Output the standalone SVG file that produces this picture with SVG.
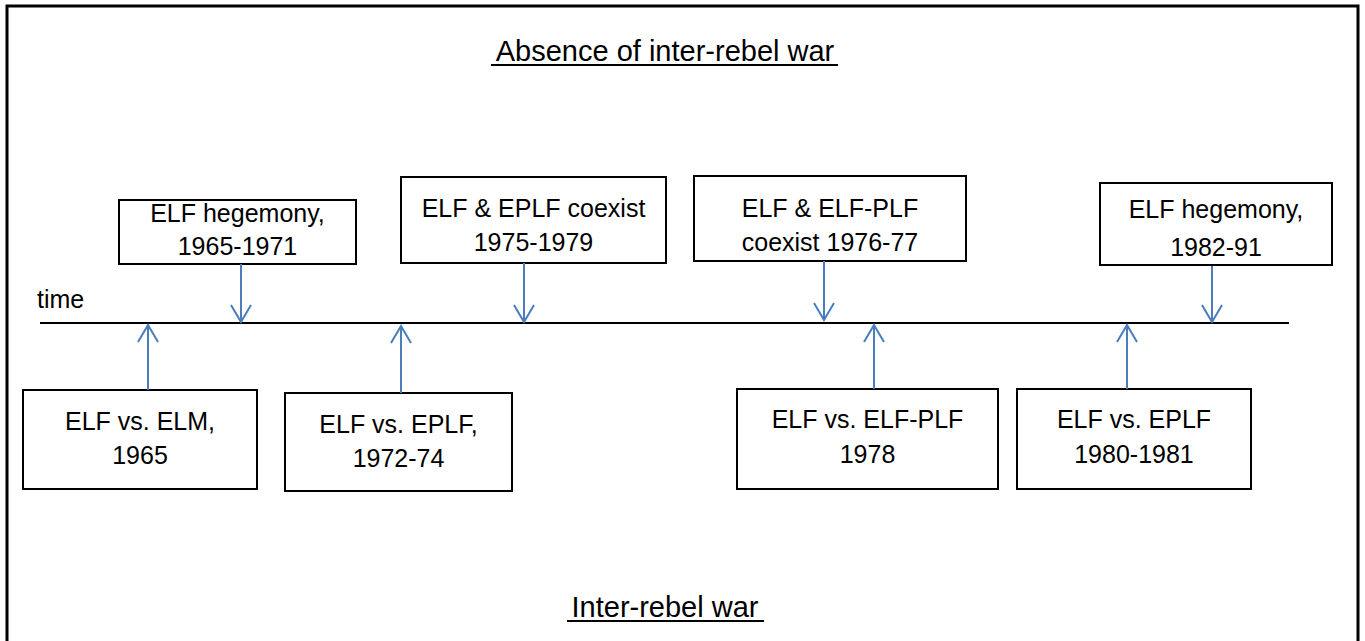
<svg xmlns="http://www.w3.org/2000/svg" width="1365" height="641" viewBox="0 0 1365 641">
<style>
.box{fill:#fff;stroke:#000;stroke-width:2}
.t{font-family:"Liberation Sans",Arial,sans-serif;font-size:25px;fill:#000;text-anchor:middle}
.h{font-family:"Liberation Sans",Arial,sans-serif;font-size:29px;fill:#000;text-anchor:middle}
.c{stroke:#4a7ebb;stroke-width:2;fill:none}
</style>
<defs>
<marker id="ah" markerUnits="userSpaceOnUse" viewBox="-20 -12 22 24" refX="0" refY="0" markerWidth="22" markerHeight="24" orient="auto">
<path d="M-17,-10 L0,0 L-17,10" fill="none" stroke="#4a7ebb" stroke-width="2"/>
</marker>
</defs>
<rect width="1365" height="641" fill="#fff"/>
<path d="M7,641 V6 H1358 V641" fill="none" stroke="#000" stroke-width="3"/>
<g id="title-top">
<text class="h" x="665" y="61">Absence of inter-rebel war</text>
<line x1="491" y1="65" x2="838" y2="65" stroke="#000" stroke-width="2"/>
</g>
<g id="title-bottom">
<text class="h" x="665" y="617">Inter-rebel war</text>
<line x1="567" y1="621" x2="764" y2="621" stroke="#000" stroke-width="2"/>
</g>
<g id="timeline">
<text class="t" x="37" y="308" style="text-anchor:start">time</text>
<line x1="40" y1="323" x2="1289" y2="323" stroke="#000" stroke-width="2"/>
</g>
<g id="n1"><rect class="box" x="119" y="200" width="237" height="64"/><text class="t" x="237.5" y="222">ELF hegemony,</text><text class="t" x="237.5" y="255">1965-1971</text></g>
<g id="n2"><rect class="box" x="401" y="177" width="265" height="86"/><text class="t" x="533.5" y="217">ELF &amp; EPLF coexist</text><text class="t" x="533.5" y="251">1975-1979</text></g>
<g id="n3"><rect class="box" x="694" y="176" width="272" height="85"/><text class="t" x="830" y="217">ELF &amp; ELF-PLF</text><text class="t" x="830" y="251">coexist 1976-77</text></g>
<g id="n4"><rect class="box" x="1100" y="183" width="232" height="82"/><text class="t" x="1216" y="218">ELF hegemony,</text><text class="t" x="1216" y="256">1982-91</text></g>
<g id="n5"><rect class="box" x="23" y="390" width="234" height="99"/><text class="t" x="140" y="430">ELF vs. ELM,</text><text class="t" x="140" y="464">1965</text></g>
<g id="n6"><rect class="box" x="285" y="393" width="227" height="98"/><text class="t" x="398.5" y="433">ELF vs. EPLF,</text><text class="t" x="398.5" y="467">1972-74</text></g>
<g id="n7"><rect class="box" x="737" y="389" width="261" height="100"/><text class="t" x="867.5" y="428">ELF vs. ELF-PLF</text><text class="t" x="867.5" y="463">1978</text></g>
<g id="n8"><rect class="box" x="1017" y="389" width="234" height="100"/><text class="t" x="1134" y="428">ELF vs. EPLF</text><text class="t" x="1134" y="463">1980-1981</text></g>
<g id="connectors">
<line class="c" x1="241" y1="264" x2="241" y2="322" marker-end="url(#ah)"/>
<line class="c" x1="524" y1="263" x2="524" y2="322" marker-end="url(#ah)"/>
<line class="c" x1="824" y1="261" x2="824" y2="320" marker-end="url(#ah)"/>
<line class="c" x1="1212" y1="266" x2="1212" y2="322" marker-end="url(#ah)"/>
<line class="c" x1="148" y1="390" x2="148" y2="325" marker-end="url(#ah)"/>
<line class="c" x1="401" y1="393" x2="401" y2="326" marker-end="url(#ah)"/>
<line class="c" x1="874" y1="389" x2="874" y2="325" marker-end="url(#ah)"/>
<line class="c" x1="1127" y1="389" x2="1127" y2="325" marker-end="url(#ah)"/>
</g>
</svg>
